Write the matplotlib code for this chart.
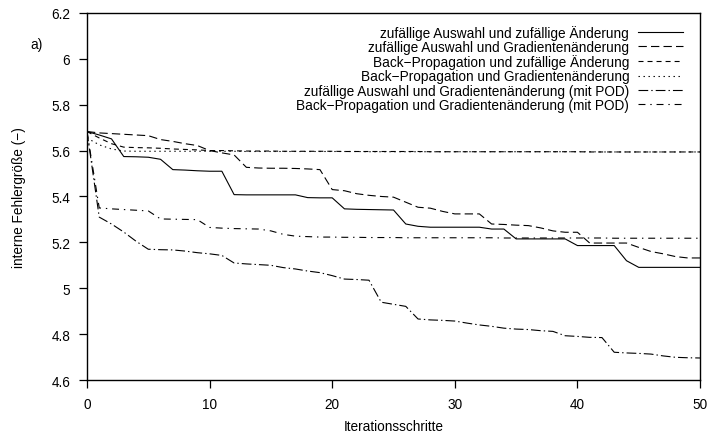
import matplotlib
matplotlib.use("Agg")
import matplotlib.pyplot as plt
from matplotlib.ticker import FuncFormatter

plt.rcParams["font.family"] = ["Liberation Sans", "DejaVu Sans"]
plt.rcParams["lines.scale_dashes"] = False

# Iterationsschritte 0..50
steps = list(range(51))

# zufällige Auswahl und zufällige Änderung
zz = [5.683, 5.668, 5.651, 5.574, 5.573, 5.571, 5.562, 5.517, 5.515, 5.512,
      5.510, 5.510, 5.408, 5.407, 5.407, 5.407, 5.407, 5.407, 5.395, 5.394,
      5.394, 5.346, 5.344, 5.343, 5.342, 5.341, 5.280, 5.270, 5.266, 5.266,
      5.266, 5.266, 5.266, 5.258, 5.258, 5.215, 5.215, 5.215, 5.215, 5.215,
      5.186, 5.186, 5.186, 5.186, 5.120, 5.091, 5.091, 5.091, 5.091, 5.091,
      5.091]

# zufällige Auswahl und Gradientenänderung
zg = [5.683, 5.677, 5.674, 5.671, 5.668, 5.665, 5.648, 5.640, 5.630, 5.622,
      5.600, 5.590, 5.581, 5.527, 5.524, 5.523, 5.523, 5.522, 5.520, 5.517,
      5.430, 5.425, 5.412, 5.405, 5.400, 5.397, 5.375, 5.353, 5.349, 5.335,
      5.324, 5.324, 5.324, 5.280, 5.278, 5.275, 5.273, 5.263, 5.250, 5.244,
      5.244, 5.197, 5.197, 5.197, 5.197, 5.178, 5.160, 5.150, 5.138, 5.132,
      5.132]

# Back-Propagation und zufällige Änderung
bz = [5.683, 5.655, 5.630, 5.615, 5.613, 5.612, 5.610, 5.607, 5.605, 5.603,
      5.600, 5.600, 5.599, 5.598, 5.598, 5.598, 5.597, 5.597, 5.597, 5.597,
      5.597, 5.596, 5.596, 5.596, 5.596, 5.596, 5.596, 5.596, 5.595, 5.595,
      5.595, 5.595, 5.595, 5.595, 5.595, 5.595, 5.595, 5.595, 5.595, 5.595,
      5.595, 5.594, 5.594, 5.594, 5.594, 5.594, 5.594, 5.594, 5.594, 5.594,
      5.594]

# Back-Propagation und Gradientenänderung
bg = [5.655, 5.625, 5.607, 5.598, 5.597, 5.597, 5.597, 5.597, 5.597, 5.597,
      5.597, 5.597, 5.597, 5.596, 5.596, 5.596, 5.596, 5.596, 5.596, 5.596,
      5.596, 5.596, 5.596, 5.595, 5.595, 5.595, 5.595, 5.595, 5.595, 5.595,
      5.595, 5.595, 5.595, 5.595, 5.595, 5.595, 5.595, 5.595, 5.595, 5.595,
      5.595, 5.595, 5.594, 5.594, 5.594, 5.594, 5.594, 5.594, 5.594, 5.594,
      5.594]

# zufällige Auswahl und Gradientenänderung (mit POD)
zg_pod = [5.683, 5.310, 5.280, 5.245, 5.205, 5.170, 5.168, 5.167, 5.162, 5.155,
          5.150, 5.143, 5.110, 5.106, 5.103, 5.100, 5.090, 5.084, 5.075, 5.068,
          5.055, 5.040, 5.038, 5.035, 4.939, 4.930, 4.921, 4.866, 4.862, 4.860,
          4.857, 4.848, 4.840, 4.834, 4.826, 4.822, 4.820, 4.815, 4.812, 4.793,
          4.790, 4.786, 4.785, 4.721, 4.718, 4.716, 4.713, 4.705, 4.699, 4.697,
          4.696]

# Back-Propagation und Gradientenänderung (mit POD)
bg_pod = [5.683, 5.350, 5.346, 5.343, 5.340, 5.337, 5.302, 5.301, 5.300, 5.299,
          5.265, 5.262, 5.260, 5.259, 5.258, 5.250, 5.235, 5.227, 5.225, 5.223,
          5.223, 5.222, 5.222, 5.221, 5.221, 5.221, 5.220, 5.220, 5.220, 5.220,
          5.220, 5.220, 5.220, 5.220, 5.219, 5.219, 5.219, 5.219, 5.219, 5.219,
          5.219, 5.219, 5.219, 5.218, 5.218, 5.218, 5.218, 5.218, 5.218, 5.218,
          5.218]

labels = [
    "zufällige Auswahl und zufällige Änderung",
    "zufällige Auswahl und Gradientenänderung",
    "Back\u2212Propagation und zufällige Änderung",
    "Back\u2212Propagation und Gradientenänderung",
    "zufällige Auswahl und Gradientenänderung (mit POD)",
    "Back\u2212Propagation und Gradientenänderung (mit POD)",
]

series = [zz, zg, bz, bg, zg_pod, bg_pod]

styles = [
    "-",
    (0, (6.0, 3.0)),
    (0, (3.6, 2.9)),
    (0, (1.0, 2.6)),
    (0, (7.0, 2.2, 1.0, 2.2)),
    (0, (5.0, 3.5, 1.0, 3.5)),
]

fig = plt.figure(figsize=(7.1, 4.35), dpi=100)
ax = fig.add_axes([0.1225, 0.1241, 0.8635, 0.8439])

for values, label, ls in zip(series, labels, styles):
    ax.plot(steps, values, color="black", lw=0.8, linestyle=ls, label=label)

ax.set_xlim(0, 50)
ax.set_ylim(4.6, 6.2)
ax.set_xticks([0, 10, 20, 30, 40, 50])
ax.set_yticks([4.6, 4.8, 5.0, 5.2, 5.4, 5.6, 5.8, 6.0, 6.2])
ax.yaxis.set_major_formatter(FuncFormatter(lambda v, p: f"{v:g}"))

ax.tick_params(direction="out", length=6, width=0.9, labelsize=9.8,
               top=False, right=False, pad=6)
for sp in ax.spines.values():
    sp.set_linewidth(1.0)

ax.set_xlabel("Iterationsschritte", fontsize=9.8, labelpad=6)
ax.set_ylabel("interne Fehlergröße (\u2212)", fontsize=9.8, labelpad=18)

fig.text(30 / 710, 1 - 45 / 435, "a)", fontsize=9.8, ha="left", va="center")

ax.legend(loc="upper right", bbox_to_anchor=(0.972, 0.968),
          frameon=False, markerfirst=False, fontsize=9.8,
          handlelength=3.3, handletextpad=0.65, labelspacing=0.02,
          borderpad=0, borderaxespad=0)

fig.savefig("out.png", dpi=100)
